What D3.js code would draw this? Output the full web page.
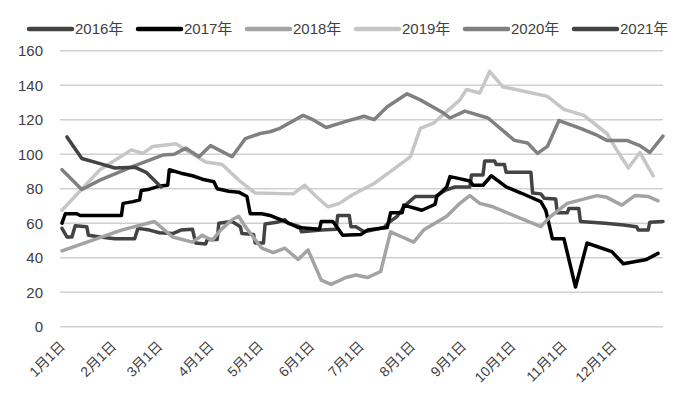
<!DOCTYPE html>
<html>
<head>
<meta charset="utf-8">
<script src="https://cdn.jsdelivr.net/npm/d3@7"></script>
<style>
  body { margin: 0; background: #fff; }
  text { font-family: "Liberation Sans", "Noto Sans CJK SC", sans-serif; fill: #404040; }
</style>
</head>
<body>
<svg id="chart" width="689" height="396"></svg>
<script>
// series, each point is [month-day, value]
const s2016 = [["01-01",57],["01-04",52],["01-07",52],["01-09",58.5],["01-16",58],["01-17",53],["01-24",52],["02-02",51],["02-14",51],["02-16",57],["02-23",56],["03-01",54.5],["03-09",54],["03-14",56],["03-21",56.5],["03-23",48.5],["03-29",48],["03-30",50.5],["04-05",50.5],["04-06",60],["04-14",61],["04-19",58],["04-20",54],["04-27",53.5],["04-28",48.5],["05-03",48.5],["05-04",59.5],["05-11",60.5],["05-16",62],["05-18",60],["05-25",58],["05-26",55],["06-07",56],["06-16",56.5],["06-17",64.5],["06-24",64.5],["06-25",58],["06-28",58],["07-03",55],["07-15",57.5],["07-18",60.5],["07-23",64],["07-26",68],["07-28",70.5],["08-03",75.5],["08-15",75.5],["08-21",79],["08-27",81],["09-05",81],["09-06",88],["09-13",88],["09-14",96],["09-20",96],["09-21",94],["09-26",94],["09-27",89.5],["10-12",89.5],["10-13",77.5],["10-18",77],["10-20",74.5],["10-27",74],["10-28",66],["11-03",66],["11-04",68.5],["11-10",68.5],["11-11",61],["11-26",60],["12-07",59],["12-15",58],["12-16",56],["12-22",56],["12-23",60.5],["12-31",61]];
const s2017 = [["01-01",60],["01-03",65.5],["01-10",65.5],["01-12",64.5],["02-06",64.5],["02-07",71.5],["02-13",72.5],["02-17",73.5],["02-18",79],["02-22",79.5],["03-01",81.5],["03-06",82],["03-07",91],["03-14",89],["03-21",87.5],["03-27",85.5],["04-03",84],["04-05",80],["04-12",78.5],["04-18",78],["04-23",75.5],["04-25",65.5],["05-02",65.5],["05-07",64.5],["05-11",63],["05-16",61],["05-24",57.5],["06-06",56.5],["06-07",61],["06-14",61],["06-16",58.5],["06-20",53],["07-01",53.5],["07-05",56],["07-17",57.5],["07-19",66],["07-26",66],["07-27",70.5],["08-07",67.5],["08-15",71],["08-16",75.5],["08-22",81],["08-24",87],["08-29",86],["09-05",84.5],["09-07",82],["09-13",82],["09-18",87.5],["09-27",81],["10-06",77.5],["10-18",72.5],["10-21",67.5],["10-25",51],["11-01",51],["11-08",23],["11-15",48.5],["11-21",46.5],["11-30",43.5],["12-07",36.5],["12-21",39],["12-28",42.5]];
const s2018 = [["01-01",44],["02-06",56],["02-26",61],["03-09",52],["03-21",49],["03-27",53],["04-02",50],["04-07",56],["04-14",62],["04-18",64],["04-22",58],["05-02",45.5],["05-09",43],["05-16",45.5],["05-24",39],["05-30",44.5],["06-07",27],["06-13",24.5],["06-22",28.5],["06-28",30],["07-05",28.5],["07-13",32],["07-19",55],["07-26",52],["08-02",49],["08-08",56],["08-22",64],["08-30",71.5],["09-05",76],["09-11",71.5],["09-19",69.5],["10-18",58],["10-24",64],["11-03",71.5],["11-21",76],["11-27",75],["12-06",70.5],["12-14",76],["12-22",75.5],["12-28",73]];
const s2019 = [["01-01",67.5],["01-24",91],["02-12",102.5],["02-19",100.5],["02-25",104.5],["03-11",106],["03-17",102.5],["03-29",95.5],["04-08",94],["04-18",85],["04-28",77.5],["05-21",77],["05-28",82],["06-04",75.5],["06-11",69.5],["06-18",71.5],["06-26",76.5],["07-09",83],["07-31",98.5],["08-06",115],["08-14",118],["08-30",131.5],["09-03",137.5],["09-11",135.5],["09-17",148],["09-25",139],["10-03",137.5],["10-22",133.5],["11-01",126],["11-13",122.5],["11-27",112],["12-03",102.5],["12-10",92],["12-17",101],["12-25",87.5]];
const s2020 = [["01-01",91],["01-13",79.5],["01-24",85],["02-13",93],["03-03",99.5],["03-10",100],["03-17",103.5],["03-25",98.5],["04-01",105],["04-14",98.5],["04-22",109],["05-01",112],["05-07",113],["05-13",115],["05-27",122.5],["06-02",120],["06-10",115.5],["06-22",119],["07-03",122],["07-09",120],["07-17",127.5],["07-29",135],["08-06",131.5],["08-19",124.5],["08-24",121],["09-02",125],["09-16",121],["10-02",108],["10-10",106.5],["10-16",100.5],["10-22",104.5],["10-29",119.5],["11-11",115],["11-21",111],["11-27",108],["12-09",108],["12-17",105],["12-23",101],["12-31",110.5]];
const s2021 = [["01-04",110],["01-13",97.5],["01-24",94.5],["02-02",92],["02-14",92.5],["02-21",89.5],["03-02",81]];

const seriesNames = ["2016年", "2017年", "2018年", "2019年", "2020年", "2021年"];
const seriesData = [s2016, s2017, s2018, s2019, s2020, s2021];
const seriesColors = ["#434343", "#000000", "#a3a3a3", "#c6c6c6", "#808080", "#434343"];
const yTicks = [0, 20, 40, 60, 80, 100, 120, 140, 160];
const monthLabels = ["1月1日","2月1日","3月1日","4月1日","5月1日","6月1日","7月1日","8月1日","9月1日","10月1日","11月1日","12月1日"];

const svg = d3.select("#chart");
const parse = d3.timeParse("%Y-%m-%d");
const toDate = md => parse("2001-" + md);

const x = d3.scaleTime()
  .domain([toDate("01-01"), toDate("12-31")])
  .range([62, 663]);
const y = d3.scaleLinear()
  .domain([0, 160])
  .range([326.7, 50.7]);

// gridlines
svg.append("g")
  .selectAll("line")
  .data(yTicks)
  .enter().append("line")
  .attr("x1", 60).attr("x2", 663)
  .attr("y1", d => y(d)).attr("y2", d => y(d))
  .attr("stroke", "#d0d0d0")
  .attr("stroke-width", 1.5);

// y labels
svg.append("g")
  .selectAll("text")
  .data(yTicks)
  .enter().append("text")
  .attr("x", 43)
  .attr("y", d => y(d))
  .attr("dy", "0.36em")
  .attr("text-anchor", "end")
  .style("font-size", "15px")
  .text(d => d);

// x labels (rotated)
svg.append("g")
  .selectAll("text")
  .data(monthLabels)
  .enter().append("text")
  .attr("transform", (d, i) => `translate(${x(new Date(2001, i, 1)) + 4}, 347) rotate(-45)`)
  .attr("text-anchor", "end")
  .style("font-size", "14px")
  .text(d => d);

// lines
const line = d3.line()
  .x(d => x(toDate(d[0])))
  .y(d => y(d[1]));

svg.append("g")
  .selectAll("path")
  .data(seriesData)
  .enter().append("path")
  .attr("d", d => line(d))
  .attr("fill", "none")
  .attr("stroke", (d, i) => seriesColors[i])
  .attr("stroke-width", 3.5)
  .attr("stroke-linejoin", "round")
  .attr("stroke-linecap", "round");

// legend
const legend = svg.append("g")
  .selectAll("g")
  .data(seriesNames)
  .enter().append("g")
  .attr("transform", (d, i) => `translate(${29 + i * 109}, 29)`);
legend.append("line")
  .attr("x1", 0).attr("x2", 43)
  .attr("stroke", (d, i) => seriesColors[i])
  .attr("stroke-width", 4.5)
  .attr("stroke-linecap", "round");
legend.append("text")
  .attr("x", 46)
  .attr("dy", "0.36em")
  .style("font-size", "15px")
  .text(d => d);
</script>
</body>
</html>
